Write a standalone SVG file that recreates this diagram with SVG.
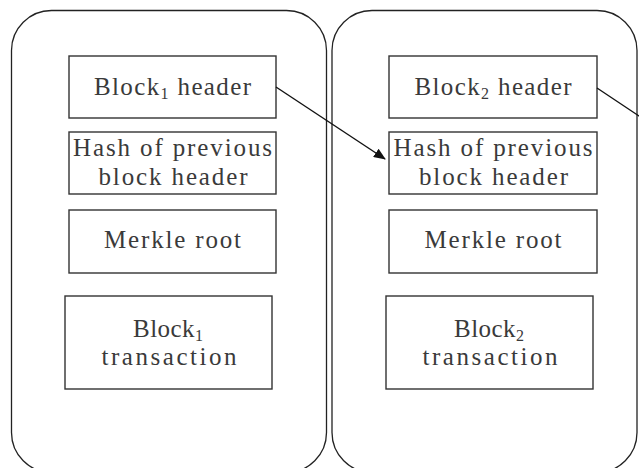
<svg xmlns="http://www.w3.org/2000/svg" width="639" height="468" viewBox="0 0 639 468">
  <style>
    .frame { fill: none; stroke: #222; stroke-width: 1.3; }
    .box { fill: #fff; stroke: #333; stroke-width: 1.4; }
    .lbl { font-family: "Liberation Serif", "DejaVu Serif", serif; font-size: 25px; fill: #3a3a3a; text-anchor: middle; }
    .sub { font-size: 16px; }
    .link { stroke: #111; stroke-width: 1.4; fill: none; }
  </style>
  <defs>
    <marker id="arrow" viewBox="0 0 12 10" refX="11" refY="5" markerWidth="12" markerHeight="10" markerUnits="userSpaceOnUse" orient="auto">
      <path d="M0,0 L12,5 L0,10 z" fill="#111"/>
    </marker>
  </defs>
  <rect width="639" height="468" fill="#fff"/>

  <!-- block 1 -->
  <g id="block1">
    <rect class="frame" x="11.5" y="10.5" width="315" height="462" rx="40" ry="40"/>
    <g id="block1-header">
      <rect class="box" x="69" y="56" width="207" height="62"/>
      <text class="lbl" x="172.5" y="95" textLength="157" lengthAdjust="spacing">Block<tspan class="sub" baseline-shift="-4">1</tspan> header</text>
    </g>
    <g id="block1-prev-hash">
      <rect class="box" x="69" y="132" width="207" height="62"/>
      <text class="lbl" x="172.5" y="156" textLength="199" lengthAdjust="spacing">Hash of previous</text>
      <text class="lbl" x="173" y="185" textLength="149" lengthAdjust="spacing">block header</text>
    </g>
    <g id="block1-merkle">
      <rect class="box" x="69" y="210" width="207" height="63"/>
      <text class="lbl" x="172.5" y="248" textLength="137" lengthAdjust="spacing">Merkle root</text>
    </g>
    <g id="block1-tx">
      <rect class="box" x="65" y="296" width="207" height="93"/>
      <text class="lbl" x="168" y="337" textLength="70" lengthAdjust="spacing">Block<tspan class="sub" baseline-shift="-4">1</tspan></text>
      <text class="lbl" x="169" y="365" textLength="135" lengthAdjust="spacing">transaction</text>
    </g>
  </g>

  <!-- block 2 -->
  <g id="block2">
    <rect class="frame" x="332" y="10.5" width="305" height="462" rx="40" ry="40"/>
    <g id="block2-header">
      <rect class="box" x="389" y="56" width="208" height="62"/>
      <text class="lbl" x="493" y="95" textLength="157" lengthAdjust="spacing">Block<tspan class="sub" baseline-shift="-4">2</tspan> header</text>
    </g>
    <g id="block2-prev-hash">
      <rect class="box" x="389" y="132" width="208" height="62"/>
      <text class="lbl" x="493" y="156" textLength="199" lengthAdjust="spacing">Hash of previous</text>
      <text class="lbl" x="493.5" y="185" textLength="149" lengthAdjust="spacing">block header</text>
    </g>
    <g id="block2-merkle">
      <rect class="box" x="389" y="210" width="208" height="63"/>
      <text class="lbl" x="493" y="248" textLength="137" lengthAdjust="spacing">Merkle root</text>
    </g>
    <g id="block2-tx">
      <rect class="box" x="386" y="296" width="207" height="93"/>
      <text class="lbl" x="489" y="337" textLength="70" lengthAdjust="spacing">Block<tspan class="sub" baseline-shift="-4">2</tspan></text>
      <text class="lbl" x="490" y="365" textLength="135" lengthAdjust="spacing">transaction</text>
    </g>
  </g>

  <!-- links between blocks -->
  <g id="connectors">
    <line class="link" x1="276" y1="87" x2="385" y2="159" marker-end="url(#arrow)"/>
    <line class="link" x1="597" y1="88" x2="645" y2="120"/>
  </g>
</svg>
